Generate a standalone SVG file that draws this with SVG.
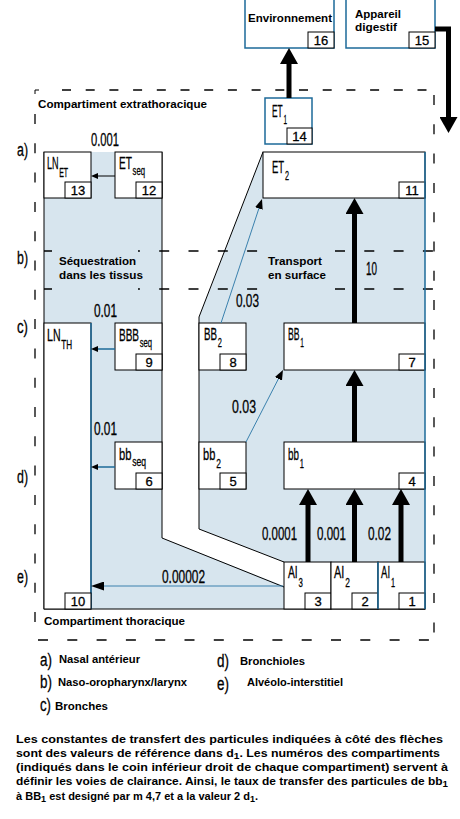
<svg xmlns="http://www.w3.org/2000/svg" width="460" height="819" viewBox="0 0 460 819">
<style>
.sh{fill:#d7e5ee}
.bx{fill:#fff;stroke:#000;stroke-width:1}
.bxb{fill:#fff;stroke:#1d6a99;stroke-width:1.5}
.nb{fill:#fff;stroke:#000;stroke-width:1}
.ln{fill:none;stroke:#000;stroke-width:1}
.bl{fill:none;stroke:#1d6a99;stroke-width:1.5}
.dh{fill:none;stroke:#000;stroke-width:1.3;stroke-dasharray:10 19.3}
.dt{fill:none;stroke:#000;stroke-width:1.3;stroke-dasharray:9 14.7}
.th{fill:none;stroke:#000;stroke-width:5}
.tn{fill:none;stroke:#3a80ad;stroke-width:1}
.tk{fill:none;stroke:#000;stroke-width:1}
.tb{fill:none;stroke:#1d6a99;stroke-width:1.5}
.f{font-family:"Liberation Sans Narrow","Liberation Sans",Arial,sans-serif;fill:#000;stroke:#000;stroke-width:0.3}
.lab{font-size:17px}
.sub{font-size:13px}
.num{font-size:13px;text-anchor:middle}
.rate{font-size:18px}
.b{font-family:"Liberation Sans",Arial,sans-serif;font-weight:bold;font-size:11px;fill:#000}
</style>
<defs>
<marker id="ahT" viewBox="0 0 16 18" refX="6" refY="9" markerWidth="16" markerHeight="18" markerUnits="userSpaceOnUse" orient="auto"><path d="M0,0L16,9L0,18z" fill="#000"/></marker>
<marker id="ahS" viewBox="0 0 7 6" refX="2" refY="3" markerWidth="7" markerHeight="6" markerUnits="userSpaceOnUse" orient="auto"><path d="M0,0L7,3L0,6z" fill="#000"/></marker>
<marker id="ahM" viewBox="0 0 13 9" refX="3" refY="4.5" markerWidth="13" markerHeight="9" markerUnits="userSpaceOnUse" orient="auto"><path d="M0,0L13,4.5L0,9z" fill="#000"/></marker>
<marker id="ahD" viewBox="0 0 10 8" refX="2" refY="4" markerWidth="10" markerHeight="8" markerUnits="userSpaceOnUse" orient="auto"><path d="M0,0L10,4L0,8z" fill="#000"/></marker>
</defs>
<rect width="460" height="819" fill="#fff"/>

<g id="regions">
<polygon class="sh" points="44,152 162,152 162,538 284,586 284,609 44,609"/>
<polygon class="sh" points="263,152 425,152 425,562 284,562 199,529 199,317"/>
</g>

<g id="frame">
<path class="tk" d="M35,94V90H39"/>
<line class="dt" x1="62" y1="90" x2="434" y2="90"/>
<line class="dh" x1="35" y1="114" x2="35" y2="640"/>
<line class="dh" x1="434" y1="95" x2="434" y2="640"/>
<line class="dh" x1="38" y1="640" x2="434" y2="640"/>
<line class="dh" x1="44" y1="251" x2="434" y2="251" stroke-dashoffset="2"/>
<line class="dh" x1="44" y1="289" x2="434" y2="289" stroke-dashoffset="2"/>
<rect class="sh" x="54" y="244" width="84" height="52"/>
<rect class="sh" x="262" y="244" width="72" height="52"/>
</g>

<g id="outlines">
<path class="ln" d="M44,152V609H425"/>
<path class="ln" d="M162,152V538L284,587"/>
<path class="ln" d="M263,152L199,317V529L284,562"/>
</g>

<g id="n16"><rect class="bxb" x="245" y="-1" width="89" height="49"/><rect class="nb" x="308" y="32" width="26" height="16"/><text class="b" x="248" y="22" textLength="84" lengthAdjust="spacingAndGlyphs">Environnement</text><text class="f num" x="321" y="45">16</text></g>
<g id="n15"><rect class="bxb" x="346" y="-1" width="89" height="49"/><rect class="nb" x="409" y="32" width="26" height="16"/><text class="b" x="355" y="18" textLength="46" lengthAdjust="spacingAndGlyphs">Appareil</text><text class="b" x="355" y="31" textLength="42" lengthAdjust="spacingAndGlyphs">digestif</text><text class="f num" x="422" y="45">15</text></g>
<g id="n14"><rect class="bxb" x="265" y="98" width="47" height="46"/><rect class="nb" x="287" y="128" width="25" height="16"/><text class="f lab" x="272" y="117" textLength="15" lengthAdjust="spacingAndGlyphs">ET<tspan class="sub" dx="1.5" dy="7">1</tspan></text><text class="f num" x="299.5" y="141">14</text></g>

<g id="n13"><rect class="bx" x="44" y="152" width="47" height="46"/><rect class="nb" x="65" y="182" width="26" height="16"/><text class="f lab" x="47" y="169" textLength="21" lengthAdjust="spacingAndGlyphs">LN<tspan class="sub" font-size="11" dx="1" dy="8">ET</tspan></text><text class="f num" x="78" y="195">13</text></g>
<g id="n12"><rect class="bx" x="115" y="152" width="47" height="46"/><rect class="nb" x="136" y="182" width="26" height="16"/><text class="f lab" x="119" y="169" textLength="26" lengthAdjust="spacingAndGlyphs">ET<tspan class="sub" dx="1" dy="6">seq</tspan></text><text class="f num" x="149" y="195">12</text></g>
<g id="n11"><rect class="bx" x="263" y="152" width="162" height="46"/><rect class="nb" x="399" y="182" width="26" height="16"/><text class="f lab" x="272" y="173" textLength="17" lengthAdjust="spacingAndGlyphs">ET<tspan class="sub" dx="1.5" dy="7">2</tspan></text><text class="f num" x="412" y="195">11</text></g>

<g id="n9"><rect class="bx" x="115" y="323" width="47" height="47"/><rect class="nb" x="136" y="354" width="26" height="16"/><text class="f lab" x="119" y="341" textLength="33" lengthAdjust="spacingAndGlyphs">BBB<tspan class="sub" dx="1" dy="6">seq</tspan></text><text class="f num" x="149" y="367">9</text></g>
<g id="n10"><rect class="bx" x="44" y="323" width="47" height="286"/><line class="bl" x1="91" y1="323" x2="91" y2="609"/><rect class="nb" x="65" y="593" width="26" height="16"/><text class="f lab" x="47" y="341" textLength="25" lengthAdjust="spacingAndGlyphs">LN<tspan class="sub" dx="1" dy="8">TH</tspan></text><text class="f num" x="78" y="606">10</text></g>
<g id="n8"><rect class="bx" x="199" y="323" width="47" height="47"/><rect class="nb" x="220" y="354" width="26" height="16"/><text class="f lab" x="204" y="340" textLength="18" lengthAdjust="spacingAndGlyphs">BB<tspan class="sub" dx="1.5" dy="7">2</tspan></text><text class="f num" x="233" y="367">8</text></g>
<g id="n7"><rect class="bx" x="284" y="323" width="141" height="47"/><rect class="nb" x="399" y="354" width="26" height="16"/><text class="f lab" x="288" y="340" textLength="16" lengthAdjust="spacingAndGlyphs">BB<tspan class="sub" dx="1.5" dy="7">1</tspan></text><text class="f num" x="412" y="367">7</text></g>

<g id="n6"><rect class="bx" x="115" y="442" width="47" height="47"/><rect class="nb" x="136" y="473" width="26" height="16"/><text class="f lab" x="119" y="460" textLength="27" lengthAdjust="spacingAndGlyphs">bb<tspan class="sub" dx="1" dy="6">seq</tspan></text><text class="f num" x="149" y="486">6</text></g>
<g id="n5"><rect class="bx" x="199" y="442" width="47" height="47"/><rect class="nb" x="220" y="473" width="26" height="16"/><text class="f lab" x="203" y="460" textLength="18" lengthAdjust="spacingAndGlyphs">bb<tspan class="sub" dx="1.5" dy="8">2</tspan></text><text class="f num" x="233" y="486">5</text></g>
<g id="n4"><rect class="bx" x="284" y="442" width="141" height="47"/><rect class="nb" x="399" y="473" width="26" height="16"/><text class="f lab" x="288" y="460" textLength="16" lengthAdjust="spacingAndGlyphs">bb<tspan class="sub" dx="1.5" dy="8">1</tspan></text><text class="f num" x="412" y="486">4</text></g>

<g id="n3"><rect class="bx" x="284" y="562" width="47" height="47"/><rect class="nb" x="305" y="593" width="26" height="16"/><text class="f lab" x="288" y="578" textLength="15" lengthAdjust="spacingAndGlyphs">AI<tspan class="sub" dx="1.5" dy="9">3</tspan></text><text class="f num" x="318" y="606">3</text></g>
<g id="n2"><rect class="bx" x="331" y="562" width="47" height="47"/><rect class="nb" x="352" y="593" width="26" height="16"/><text class="f lab" x="334" y="578" textLength="16" lengthAdjust="spacingAndGlyphs">AI<tspan class="sub" dx="1.5" dy="9">2</tspan></text><text class="f num" x="365" y="606">2</text></g>
<g id="n1"><rect class="bx" x="378" y="562" width="47" height="47"/><line class="bl" x1="378" y1="562" x2="378" y2="609"/><rect class="nb" x="399" y="593" width="26" height="16"/><text class="f lab" x="381" y="578" textLength="14" lengthAdjust="spacingAndGlyphs">AI<tspan class="sub" dx="1.5" dy="9">1</tspan></text><text class="f num" x="412" y="606">1</text></g>

<line class="bl" x1="425" y1="152" x2="425" y2="609"/>

<g id="connectors">
<path class="th" d="M289,98V58" marker-end="url(#ahT)"/>
<path class="th" d="M435,29H448.5V123" marker-end="url(#ahT)"/>
<path class="th" d="M354.5,323V208" marker-end="url(#ahT)"/>
<path class="th" d="M354.5,442V380" marker-end="url(#ahT)"/>
<path class="th" d="M308,562V499" marker-end="url(#ahT)"/>
<path class="th" d="M354.5,562V499" marker-end="url(#ahT)"/>
<path class="th" d="M401,562V499" marker-end="url(#ahT)"/>
<path class="tk" d="M115,176H96" marker-end="url(#ahS)"/>
<path class="tb" d="M115,349H96" marker-end="url(#ahS)"/>
<path class="tb" d="M115,467H96" marker-end="url(#ahS)"/>
<path class="tn" d="M283,586H101" marker-end="url(#ahM)"/>
<path class="tn" d="M221,323L259.5,206.6" marker-end="url(#ahD)"/>
<path class="tn" d="M246,442L279.3,377.1" marker-end="url(#ahD)"/>
</g>

<g id="rates">
<text class="f rate" x="91" y="146" textLength="28" lengthAdjust="spacingAndGlyphs">0.001</text>
<text class="f rate" x="94" y="317" textLength="23" lengthAdjust="spacingAndGlyphs">0.01</text>
<text class="f rate" x="94" y="435" textLength="23" lengthAdjust="spacingAndGlyphs">0.01</text>
<text class="f rate" x="162" y="583" textLength="43" lengthAdjust="spacingAndGlyphs">0.00002</text>
<text class="f rate" x="236" y="307" textLength="23" lengthAdjust="spacingAndGlyphs">0.03</text>
<text class="f rate" x="366" y="275" textLength="11" lengthAdjust="spacingAndGlyphs">10</text>
<text class="f rate" x="232" y="413" textLength="24" lengthAdjust="spacingAndGlyphs">0.03</text>
<text class="f rate" x="262" y="540" textLength="35" lengthAdjust="spacingAndGlyphs">0.0001</text>
<text class="f rate" x="317" y="540" textLength="29" lengthAdjust="spacingAndGlyphs">0.001</text>
<text class="f rate" x="368" y="540" textLength="23" lengthAdjust="spacingAndGlyphs">0.02</text>
</g>

<g id="labels">
<text class="b" x="38" y="108" textLength="169" lengthAdjust="spacingAndGlyphs">Compartiment extrathoracique</text>
<text class="b" x="44" y="625" textLength="141" lengthAdjust="spacingAndGlyphs">Compartiment thoracique</text>
<text class="b" x="59" y="265" textLength="77" lengthAdjust="spacingAndGlyphs">Séquestration</text>
<text class="b" x="59" y="279" textLength="84" lengthAdjust="spacingAndGlyphs">dans les tissus</text>
<text class="b" x="268" y="265" textLength="54" lengthAdjust="spacingAndGlyphs">Transport</text>
<text class="b" x="268" y="279" textLength="58" lengthAdjust="spacingAndGlyphs">en surface</text>
<text class="f rate" x="17" y="156" textLength="11" lengthAdjust="spacingAndGlyphs">a)</text>
<text class="f rate" x="17" y="264" textLength="11" lengthAdjust="spacingAndGlyphs">b)</text>
<text class="f rate" x="17" y="333" textLength="11" lengthAdjust="spacingAndGlyphs">c)</text>
<text class="f rate" x="17" y="483" textLength="11" lengthAdjust="spacingAndGlyphs">d)</text>
<text class="f rate" x="17" y="583" textLength="11" lengthAdjust="spacingAndGlyphs">e)</text>
</g>

<g id="legend">
<text class="f rate" x="40" y="666" textLength="12" lengthAdjust="spacingAndGlyphs">a)</text>
<text class="b" x="59" y="663" textLength="81" lengthAdjust="spacingAndGlyphs">Nasal antérieur</text>
<text class="f rate" x="40" y="688" textLength="12" lengthAdjust="spacingAndGlyphs">b)</text>
<text class="b" x="58" y="686" textLength="129" lengthAdjust="spacingAndGlyphs">Naso-oropharynx/larynx</text>
<text class="f rate" x="40" y="711" textLength="11" lengthAdjust="spacingAndGlyphs">c)</text>
<text class="b" x="55" y="710" textLength="53" lengthAdjust="spacingAndGlyphs">Bronches</text>
<text class="f rate" x="217" y="667" textLength="12" lengthAdjust="spacingAndGlyphs">d)</text>
<text class="b" x="240" y="665" textLength="65" lengthAdjust="spacingAndGlyphs">Bronchioles</text>
<text class="f rate" x="217" y="690" textLength="12" lengthAdjust="spacingAndGlyphs">e)</text>
<text class="b" x="247" y="686" textLength="96" lengthAdjust="spacingAndGlyphs">Alvéolo-interstitiel</text>
</g>

<g id="caption">
<text class="b" x="16" y="743" textLength="427" lengthAdjust="spacingAndGlyphs">Les constantes de transfert des particules indiquées à côté des flèches</text>
<text class="b" x="16" y="757" textLength="424" lengthAdjust="spacingAndGlyphs">sont des valeurs de référence dans d<tspan font-size="9" dy="2">1</tspan><tspan dy="-2">. Les numéros des compartiments</tspan></text>
<text class="b" x="16" y="771" textLength="432" lengthAdjust="spacingAndGlyphs">(indiqués dans le coin inférieur droit de chaque compartiment) servent à</text>
<text class="b" x="16" y="785" textLength="432" lengthAdjust="spacingAndGlyphs">définir les voies de clairance. Ainsi, le taux de transfer des particules de bb<tspan font-size="9" dy="2">1</tspan></text>
<text class="b" x="16" y="800" textLength="242" lengthAdjust="spacingAndGlyphs">à BB<tspan font-size="9" dy="2">1</tspan><tspan dy="-2"> est designé par m 4,7 et a la valeur 2 d</tspan><tspan font-size="9" dy="2">1</tspan><tspan dy="-2">.</tspan></text>
</g>
</svg>
